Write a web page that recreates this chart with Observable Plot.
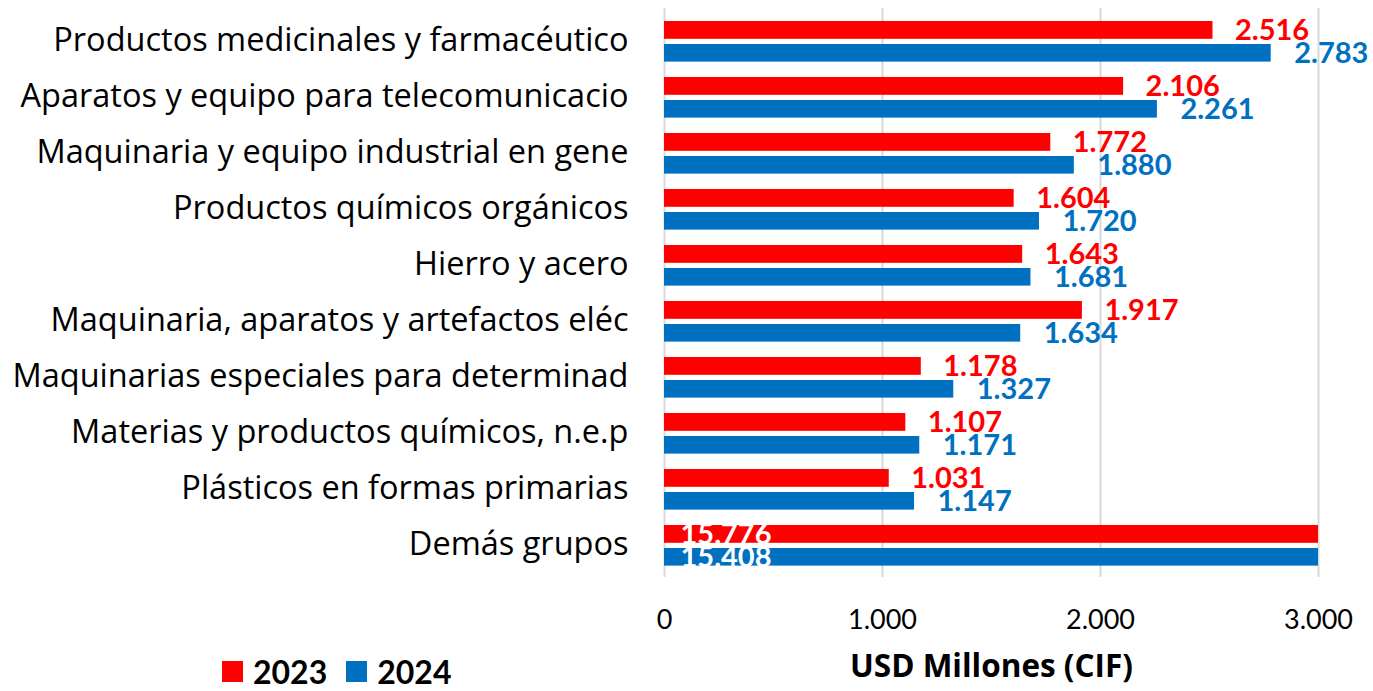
<!DOCTYPE html>
<html>
<head>
<meta charset="utf-8">
<script src="https://cdn.jsdelivr.net/npm/d3@7"></script>
<script src="https://cdn.jsdelivr.net/npm/@observablehq/plot@0.6"></script>
<style>
  html, body { margin: 0; padding: 0; background: #fff; }
  #wrap { position: relative; width: 1373px; height: 691px; font-family: Lato, "Open Sans", sans-serif; }
  #chart { position: absolute; left: 0; top: 0; }
  .legend { position: absolute; top: 652px; left: 222px; display: flex; align-items: center; font-weight: bold; font-size: 32px; color: #000; }
  .legend .sw { width: 21px; height: 21px; display: inline-block; margin-right: 10px; }
  .legend .item { display: flex; align-items: center; margin-right: 19px; }
</style>
</head>
<body>
<div id="wrap">
  <div id="chart"></div>
  <div class="legend" id="legend"></div>
</div>
<script>
const categories = [
  "Productos medicinales y farmacéutico",
  "Aparatos y equipo para telecomunicacio",
  "Maquinaria y equipo industrial en gene",
  "Productos químicos orgánicos",
  "Hierro y acero",
  "Maquinaria, aparatos y artefactos eléc",
  "Maquinarias especiales para determinad",
  "Materias y productos químicos, n.e.p",
  "Plásticos en formas primarias",
  "Demás grupos"
];
const values2023 = [2516, 2106, 1772, 1604, 1643, 1917, 1178, 1107, 1031, 15776];
const values2024 = [2783, 2261, 1880, 1720, 1681, 1634, 1327, 1171, 1147, 15408];
const years = ["2023", "2024"];
const colors = ["#FF0000", "#0070C0"];
const xTicks = [0, 1000, 2000, 3000];
const xMax = 3000;
const axisTitle = "USD Millones (CIF)";

const locale = d3.formatLocale({decimal: ",", thousands: ".", grouping: [3], currency: ["", ""]});
const fmt = locale.format(",");

const rows = [];
categories.forEach((c, i) => {
  rows.push({cat: c, year: "2023", value: values2023[i]});
  rows.push({cat: c, year: "2024", value: values2024[i]});
});
const r23 = rows.filter(d => d.year === "2023");
const r24 = rows.filter(d => d.year === "2024");

const FONT = "Lato, 'Open Sans', sans-serif";
const WIDE = "'Open Sans', Lato, sans-serif";

const chart = Plot.plot({
  width: 1373,
  height: 691,
  marginLeft: 664,
  marginRight: 55,
  marginTop: 8,
  marginBottom: 114,
  style: {fontFamily: FONT, color: "#000", background: "#fff"},
  x: {domain: [0, xMax]},
  y: {domain: categories, padding: 0},
  marks: [
    Plot.ruleX(xTicks, {stroke: "#d9d9d9", strokeWidth: 2}),
    Plot.barX(r23, {x: "value", y: "cat", fill: colors[0], insetTop: 8, insetBottom: 30.2, clip: true}),
    Plot.barX(r24, {x: "value", y: "cat", fill: colors[1], insetTop: 31, insetBottom: 7.4, clip: true}),
    Plot.text(r23.filter(d => d.value <= xMax), {x: "value", y: "cat", text: d => fmt(d.value), dx: 22, dy: -11, textAnchor: "start", fill: colors[0], fontWeight: "bold", fontSize: 29}),
    Plot.text(r24.filter(d => d.value <= xMax), {x: "value", y: "cat", text: d => fmt(d.value), dx: 23, dy: 12, textAnchor: "start", fill: colors[1], fontWeight: "bold", fontSize: 29}),
    Plot.text(r23.filter(d => d.value > xMax), {x: 0, y: "cat", text: d => fmt(d.value), dx: 16, dy: -11, textAnchor: "start", fill: "#fff", fontWeight: "bold", fontSize: 29}),
    Plot.text(r24.filter(d => d.value > xMax), {x: 0, y: "cat", text: d => fmt(d.value), dx: 16, dy: 12, textAnchor: "start", fill: "#fff", fontWeight: "bold", fontSize: 29}),
    Plot.axisY({tickSize: 0, tickPadding: 36, fontSize: 32.5, fontFamily: WIDE, dy: -1, label: null, fill: "#000"}),
    Plot.axisX({ticks: xTicks, tickSize: 0, tickPadding: 32, fontSize: 27, tickFormat: fmt, label: null, fill: "#000"}),
    Plot.text([axisTitle], {frameAnchor: "bottom", dy: 99, fontSize: 31.5, fontFamily: WIDE, fontWeight: "bold", fill: "#000"})
  ]
});
document.getElementById("chart").appendChild(chart);

const legend = document.getElementById("legend");
years.forEach((y, i) => {
  const item = document.createElement("span");
  item.className = "item";
  const sw = document.createElement("span");
  sw.className = "sw";
  sw.style.background = colors[i];
  item.appendChild(sw);
  item.appendChild(document.createTextNode(y));
  legend.appendChild(item);
});
</script>
</body>
</html>
